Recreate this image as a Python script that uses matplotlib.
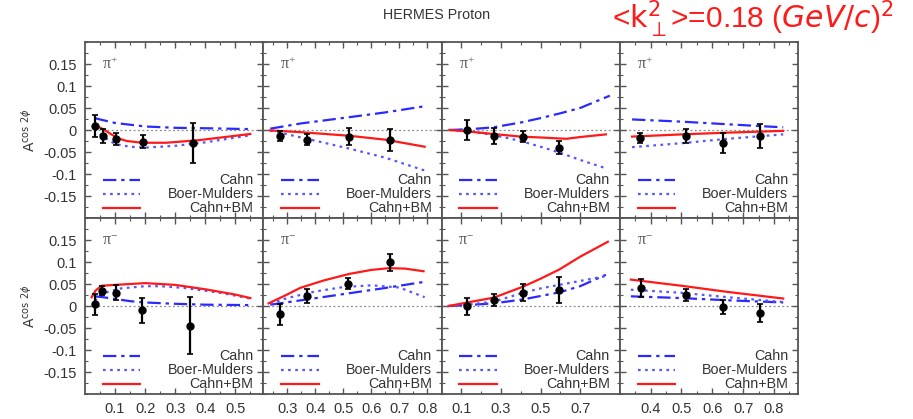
import matplotlib
matplotlib.use("Agg")
import matplotlib.pyplot as plt
from matplotlib.ticker import FixedLocator, MultipleLocator

plt.rcParams['font.family'] = ['Liberation Sans', 'DejaVu Sans']

# ---------------- data ----------------
y_ticks = [-0.15, -0.1, -0.05, 0, 0.05, 0.1, 0.15]
y_tick_labels = ['-0.15', '-0.1', '-0.05', '0', '0.05', '0.1', '0.15']

col_xlims = [(0.0, 0.593), (0.215, 0.85), (0.0, 0.9), (0.3, 0.878)]
col_xticks = [[0.1, 0.2, 0.3, 0.4, 0.5],
              [0.3, 0.4, 0.5, 0.6, 0.7, 0.8],
              [0.1, 0.3, 0.5, 0.7],
              [0.4, 0.5, 0.6, 0.7, 0.8]]
col_xtick_labels = [['0.1', '0.2', '0.3', '0.4', '0.5'],
                    ['0.3', '0.4', '0.5', '0.6', '0.7', '0.8'],
                    ['0.1', '0.3', '0.5', '0.7'],
                    ['0.4', '0.5', '0.6', '0.7', '0.8']]
col_minor = [[0.05, 0.15, 0.25, 0.35, 0.45, 0.55],
             [0.25, 0.35, 0.45, 0.55, 0.65, 0.75, 0.85],
             [0.2, 0.4, 0.6],
             [0.35, 0.45, 0.55, 0.65, 0.75, 0.85]]

row_labels = [r'$\mathregular{\pi^{+}}$', r'$\mathregular{\pi^{-}}$']
legend_names = ['Cahn', 'Boer-Mulders', 'Cahn+BM']

# --- pi+ (top row) ---
pp1_x = [0.033, 0.059, 0.102, 0.192, 0.358]
pp1_y = [0.009, -0.014, -0.021, -0.027, -0.030]
pp1_e = [0.025, 0.016, 0.014, 0.015, 0.046]
pp1_cahn_x = [0.033, 0.05, 0.1, 0.2, 0.3, 0.4, 0.55]
pp1_cahn_y = [0.027, 0.024, 0.016, 0.008, 0.005, 0.004, 0.002]
pp1_bm_x = [0.033, 0.06, 0.1, 0.15, 0.2, 0.3, 0.4, 0.55]
pp1_bm_y = [0.003, -0.015, -0.032, -0.038, -0.040, -0.036, -0.028, -0.012]
pp1_sum_x = [0.033, 0.06, 0.083, 0.11, 0.139, 0.19, 0.27, 0.38, 0.55]
pp1_sum_y = [0.011, 0.002, -0.008, -0.019, -0.025, -0.029, -0.029, -0.023, -0.009]

pp2_x = [0.275, 0.371, 0.519, 0.666]
pp2_y = [-0.014, -0.022, -0.015, -0.022]
pp2_e = [0.011, 0.012, 0.019, 0.025]
pp2_cahn_x = [0.24, 0.35, 0.52, 0.65, 0.79]
pp2_cahn_y = [0.003, 0.015, 0.029, 0.040, 0.054]
pp2_bm_x = [0.24, 0.35, 0.52, 0.65, 0.79]
pp2_bm_y = [-0.001, -0.017, -0.042, -0.063, -0.092]
pp2_sum_x = [0.24, 0.35, 0.52, 0.65, 0.79]
pp2_sum_y = [-0.001, -0.005, -0.013, -0.022, -0.038]

pp3_x = [0.129, 0.264, 0.412, 0.591]
pp3_y = [0.0, -0.014, -0.015, -0.040]
pp3_e = [0.023, 0.018, 0.013, 0.014]
pp3_cahn_x = [0.04, 0.15, 0.26, 0.4, 0.5, 0.6, 0.7, 0.85]
pp3_cahn_y = [0.0, 0.002, 0.006, 0.017, 0.027, 0.038, 0.050, 0.078]
pp3_bm_x = [0.04, 0.15, 0.26, 0.4, 0.5, 0.6, 0.7, 0.83]
pp3_bm_y = [0.0, -0.004, -0.011, -0.025, -0.038, -0.052, -0.068, -0.087]
pp3_sum_x = [0.04, 0.15, 0.26, 0.4, 0.5, 0.63, 0.7, 0.83]
pp3_sum_y = [0.0, -0.004, -0.009, -0.015, -0.017, -0.020, -0.016, -0.010]

pp4_x = [0.367, 0.514, 0.635, 0.755]
pp4_y = [-0.018, -0.014, -0.030, -0.014]
pp4_e = [0.011, 0.016, 0.023, 0.028]
pp4_cahn_x = [0.34, 0.5, 0.65, 0.83]
pp4_cahn_y = [0.024, 0.019, 0.013, 0.006]
pp4_bm_x = [0.34, 0.5, 0.65, 0.83]
pp4_bm_y = [-0.039, -0.030, -0.020, -0.010]
pp4_sum_x = [0.34, 0.5, 0.65, 0.83]
pp4_sum_y = [-0.015, -0.010, -0.006, -0.002]

# --- pi- (bottom row) ---
pm1_x = [0.033, 0.058, 0.102, 0.189, 0.348]
pm1_y = [0.004, 0.035, 0.030, -0.010, -0.045]
pm1_e = [0.024, 0.011, 0.017, 0.029, 0.065]
pm1_cahn_x = [0.033, 0.06, 0.1, 0.15, 0.2, 0.3, 0.4, 0.55]
pm1_cahn_y = [0.022, 0.020, 0.016, 0.011, 0.008, 0.005, 0.003, 0.002]
pm1_bm_x = [0.033, 0.05, 0.08, 0.12, 0.2, 0.25, 0.33, 0.45, 0.55]
pm1_bm_y = [0.012, 0.025, 0.033, 0.040, 0.045, 0.045, 0.041, 0.030, 0.017]
pm1_sum_x = [0.022, 0.035, 0.055, 0.1, 0.2, 0.3, 0.4, 0.5, 0.55]
pm1_sum_y = [0.020, 0.035, 0.046, 0.048, 0.052, 0.048, 0.038, 0.026, 0.018]

pm2_x = [0.275, 0.371, 0.518, 0.665]
pm2_y = [-0.019, 0.022, 0.051, 0.099]
pm2_e = [0.024, 0.016, 0.013, 0.019]
pm2_cahn_x = [0.24, 0.35, 0.5, 0.65, 0.79]
pm2_cahn_y = [0.003, 0.013, 0.027, 0.041, 0.055]
pm2_bm_x = [0.24, 0.3, 0.4, 0.5, 0.6, 0.7, 0.79]
pm2_bm_y = [0.005, 0.018, 0.033, 0.043, 0.047, 0.042, 0.020]
pm2_sum_x = [0.234, 0.3, 0.346, 0.43, 0.522, 0.6, 0.663, 0.72, 0.786]
pm2_sum_y = [0.006, 0.026, 0.041, 0.058, 0.073, 0.082, 0.086, 0.085, 0.079]

pm3_x = [0.129, 0.264, 0.412, 0.595]
pm3_y = [-0.001, 0.013, 0.030, 0.037]
pm3_e = [0.020, 0.014, 0.019, 0.030]
pm3_cahn_x = [0.036, 0.13, 0.264, 0.412, 0.595, 0.7, 0.83]
pm3_cahn_y = [0.0, 0.002, 0.006, 0.015, 0.031, 0.045, 0.071]
pm3_bm_x = [0.036, 0.13, 0.264, 0.412, 0.5, 0.595, 0.7, 0.83]
pm3_bm_y = [0.0, 0.003, 0.010, 0.030, 0.040, 0.048, 0.057, 0.068]
pm3_sum_x = [0.036, 0.13, 0.264, 0.412, 0.5, 0.595, 0.7, 0.84]
pm3_sum_y = [0.0, 0.008, 0.019, 0.044, 0.062, 0.083, 0.112, 0.146]

pm4_x = [0.368, 0.514, 0.635, 0.755]
pm4_y = [0.041, 0.026, -0.002, -0.016]
pm4_e = [0.020, 0.0135, 0.016, 0.020]
pm4_cahn_x = [0.336, 0.5, 0.65, 0.83]
pm4_cahn_y = [0.022, 0.018, 0.013, 0.008]
pm4_bm_x = [0.336, 0.5, 0.65, 0.83]
pm4_bm_y = [0.037, 0.030, 0.020, 0.009]
pm4_sum_x = [0.336, 0.5, 0.65, 0.83]
pm4_sum_y = [0.060, 0.046, 0.032, 0.017]

panels = [
    [(pp1_x, pp1_y, pp1_e, pp1_cahn_x, pp1_cahn_y, pp1_bm_x, pp1_bm_y, pp1_sum_x, pp1_sum_y),
     (pp2_x, pp2_y, pp2_e, pp2_cahn_x, pp2_cahn_y, pp2_bm_x, pp2_bm_y, pp2_sum_x, pp2_sum_y),
     (pp3_x, pp3_y, pp3_e, pp3_cahn_x, pp3_cahn_y, pp3_bm_x, pp3_bm_y, pp3_sum_x, pp3_sum_y),
     (pp4_x, pp4_y, pp4_e, pp4_cahn_x, pp4_cahn_y, pp4_bm_x, pp4_bm_y, pp4_sum_x, pp4_sum_y)],
    [(pm1_x, pm1_y, pm1_e, pm1_cahn_x, pm1_cahn_y, pm1_bm_x, pm1_bm_y, pm1_sum_x, pm1_sum_y),
     (pm2_x, pm2_y, pm2_e, pm2_cahn_x, pm2_cahn_y, pm2_bm_x, pm2_bm_y, pm2_sum_x, pm2_sum_y),
     (pm3_x, pm3_y, pm3_e, pm3_cahn_x, pm3_cahn_y, pm3_bm_x, pm3_bm_y, pm3_sum_x, pm3_sum_y),
     (pm4_x, pm4_y, pm4_e, pm4_cahn_x, pm4_cahn_y, pm4_bm_x, pm4_bm_y, pm4_sum_x, pm4_sum_y)],
]

# ---------------- styling ----------------
W, H = 913, 419
fig, axes = plt.subplots(2, 4, figsize=(W / 100, H / 100), dpi=100,
                         sharey=True, sharex='col')
fig.subplots_adjust(left=85 / W, right=798 / W, top=1 - 42 / H,
                    bottom=1 - 394 / H, wspace=0, hspace=0)

blue_dd = '#2a2aff'
blue_dot = '#5555ff'
red = '#ff1a1a'
frame = '#555555'
txt = '#333333'

cahn_style = dict(color=blue_dd, lw=1.6, dashes=(6, 2.2, 1.5, 2.2))
bm_style = dict(color=blue_dot, lw=1.6, dashes=(1.2, 2.0))
sum_style = dict(color=red, lw=1.6, ls='-')
styles = [cahn_style, bm_style, sum_style]

for r in range(2):
    for c in range(4):
        ax = axes[r, c]
        (px, py, pe, cx, cy, bx, by, sx, sy) = panels[r][c]
        ax.axhline(0, color='#888888', lw=0.9, ls=(0, (1.5, 2)), zorder=1)
        ax.plot(cx, cy, **cahn_style, zorder=2)
        ax.plot(bx, by, **bm_style, zorder=2)
        ax.plot(sx, sy, **sum_style, zorder=3)
        ax.errorbar(px, py, yerr=pe, fmt='o', color='black', ms=5,
                    elinewidth=1.6, capsize=2.5, capthick=1.2, zorder=4)

        ax.set_xlim(*col_xlims[c])
        ax.set_ylim(-0.2, 0.2)
        ax.yaxis.set_major_locator(FixedLocator(y_ticks))
        ax.yaxis.set_minor_locator(MultipleLocator(0.025))
        ax.xaxis.set_major_locator(FixedLocator(col_xticks[c]))
        ax.xaxis.set_minor_locator(FixedLocator(col_minor[c]))
        ax.tick_params(which='both', direction='in', top=True, right=True,
                       color=frame, labelcolor=txt, labelsize=10.5, pad=6)
        ax.tick_params(which='major', length=4.5, width=1.0)
        ax.tick_params(which='minor', length=2.5, width=0.8)
        for sp in ax.spines.values():
            sp.set_color(frame)
            sp.set_linewidth(1.3)

        # pion label
        ax.text(0.14, 0.87, row_labels[r], transform=ax.transAxes,
                fontsize=11.5, color='#555555', family='Liberation Serif',
                ha='center', va='center')

        # legend (gnuplot style)
        leg_y = [0.215, 0.135, 0.055]
        for k in range(3):
            ax.plot([0.10, 0.31], [leg_y[k], leg_y[k]], transform=ax.transAxes,
                    **styles[k])
            ax.text(0.945, leg_y[k], legend_names[k], transform=ax.transAxes,
                    ha='right', va='center', fontsize=10.3, color=txt)

    axes[r, 0].set_yticks(y_ticks)
    axes[r, 0].set_yticklabels(y_tick_labels)
    axes[r, 0].set_ylabel(r'$\mathrm{A}^{\mathrm{cos}\ 2\phi}$', color=txt,
                          fontsize=10, labelpad=4, math_fontfamily='dejavusans')

for c in range(4):
    axes[1, c].set_xticks(col_xticks[c])
    axes[1, c].set_xticklabels(col_xtick_labels[c])

fig.text(437 / W, 1 - 15 / H, 'HERMES Proton', ha='center', va='center',
         fontsize=10.3, color=txt)
fig.text(612 / W, 1 - 19 / H, r'<$\mathrm{k}_{\perp}^{2}$>=0.18 ($GeV/c$)$^2$',
         ha='left', va='center', fontsize=21.5, color=red,
         math_fontfamily='dejavusans')

fig.savefig('out.png', dpi=100)
